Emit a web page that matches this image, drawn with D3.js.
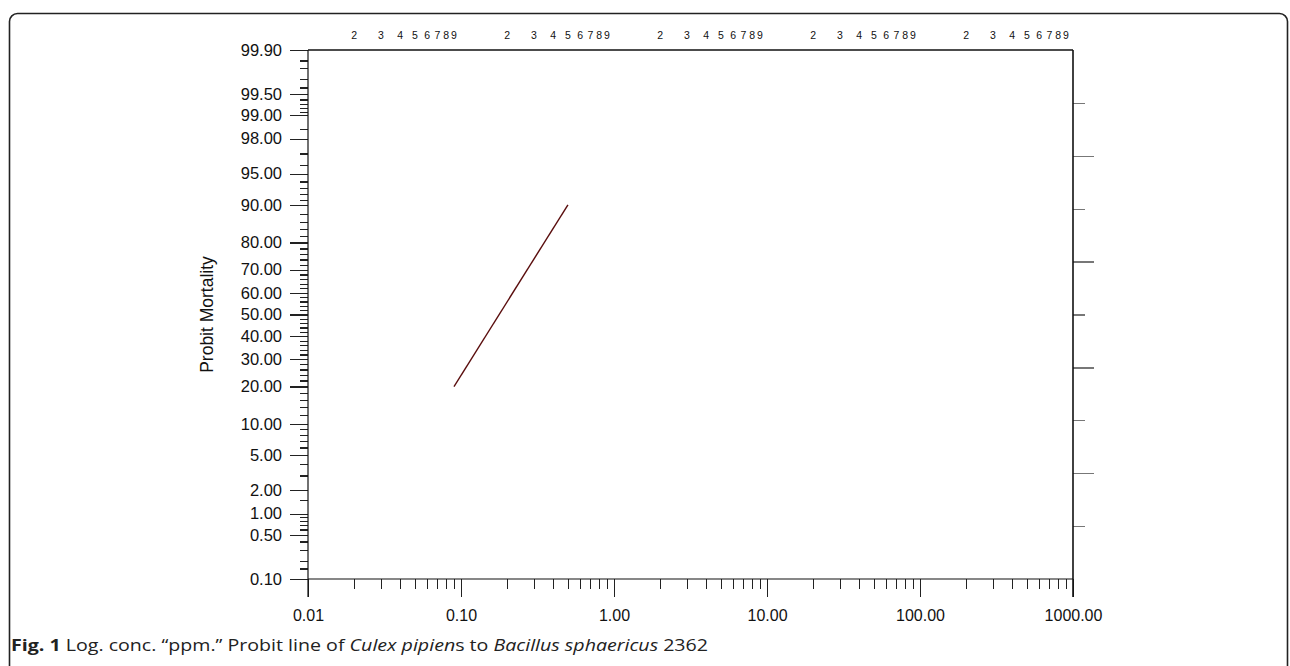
<!DOCTYPE html>
<html>
<head>
<meta charset="utf-8">
<script src="https://cdn.jsdelivr.net/npm/d3@7"></script>
<style>
  body { margin: 0; background: #fff; }
  svg { display: block; font-family: "Liberation Sans", Arial, Helvetica, sans-serif; }
  .tick line { shape-rendering: crispEdges; }
</style>
</head>
<body>
<svg id="chart" width="1290" height="666"></svg>
<script>
// probit line data
var conc = [0.09, 0.5];
var mortality = [20, 90];

// y tick labels (percent mortality)
var yMajor = [99.9, 99.5, 99, 98, 95, 90, 80, 70, 60, 50, 40, 30, 20, 10, 5, 2, 1, 0.5, 0.1];
var yMinor = [99.85, 99.8, 99.7, 99.6, 99.4, 99.3, 99.2, 99.1, 98.5, 97, 96, 94, 93, 92, 91,
  88, 86, 84, 82, 78, 76, 74, 72, 68, 66, 64, 62, 58, 56, 54, 52, 48, 46, 44, 42,
  38, 36, 34, 32, 28, 26, 24, 22, 18, 16, 14, 12, 9, 8, 7, 6, 4, 3, 1.5,
  0.9, 0.8, 0.7, 0.6, 0.4, 0.3, 0.2, 0.15];
// x tick labels (ppm)
var xMajor = [0.01, 0.1, 1, 10, 100, 1000];
var xMinorDigits = [2, 3, 4, 5, 6, 7, 8, 9];
// right hand scale ticks
var rightTicks = [1, 2, 3, 4, 5, 6, 7, 8, 9];

// inverse normal cdf (Acklam), used as the probit transform of the y axis
function probit(p) {
  var a = [-39.69683028665376, 220.9460984245205, -275.9285104469687, 138.3577518672690, -30.66479806614716, 2.506628277459239];
  var b = [-54.47609879822406, 161.5858368580409, -155.6989798598866, 66.80131188771972, -13.28068155288572];
  var c = [-0.007784894002430293, -0.3223964580411365, -2.400758277161838, -2.549732539343734, 4.374664141464968, 2.938163982698783];
  var d = [0.007784695709041462, 0.3224671290700398, 2.445134137142996, 3.754408661907416];
  var pl = 0.02425, q, r;
  if (p < pl) {
    q = Math.sqrt(-2 * Math.log(p));
    return (((((c[0]*q+c[1])*q+c[2])*q+c[3])*q+c[4])*q+c[5]) / ((((d[0]*q+d[1])*q+d[2])*q+d[3])*q+1);
  }
  if (p > 1 - pl) {
    q = Math.sqrt(-2 * Math.log(1 - p));
    return -(((((c[0]*q+c[1])*q+c[2])*q+c[3])*q+c[4])*q+c[5]) / ((((d[0]*q+d[1])*q+d[2])*q+d[3])*q+1);
  }
  q = p - 0.5;
  r = q * q;
  return (((((a[0]*r+a[1])*r+a[2])*r+a[3])*r+a[4])*r+a[5])*q / (((((b[0]*r+b[1])*r+b[2])*r+b[3])*r+b[4])*r+1);
}
function z(pct) { return probit(pct / 100); }

var plotLeft = 308, plotRight = 1073, plotTop = 50, plotBottom = 579;

var svg = d3.select("#chart");

// rounded frame round the figure
svg.append("rect")
  .attr("x", 9.5).attr("y", 13.5)
  .attr("width", 1278).attr("height", 720)
  .attr("rx", 8)
  .attr("fill", "none")
  .attr("stroke", "#222")
  .attr("stroke-width", 1.6);

var x = d3.scaleLog().domain([0.01, 1000]).range([plotLeft, plotRight]);
var yz = d3.scaleLinear().domain([z(0.1), z(99.9)]).range([plotBottom, plotTop]);
function y(pct) { return yz(z(pct)); }
var yr = d3.scaleLinear().domain([0, 10]).range([plotBottom, plotTop]);

// bottom axis: minor ticks
var xMinor = [];
for (var i = 0; i < xMajor.length - 1; i++) {
  for (var j = 0; j < xMinorDigits.length; j++) {
    xMinor.push(xMajor[i] * xMinorDigits[j]);
  }
}
svg.append("g")
  .attr("transform", "translate(0," + plotBottom + ")")
  .call(d3.axisBottom(x).tickValues(xMinor).tickSize(10).tickFormat(""))
  .call(function(g) { g.select(".domain").remove(); })
  .selectAll("line").attr("stroke", "#222").attr("stroke-width", 1.2);

// bottom axis: major ticks and labels
svg.append("g")
  .attr("transform", "translate(0," + plotBottom + ")")
  .call(d3.axisBottom(x).tickValues(xMajor).tickSize(18).tickPadding(13).tickFormat(d3.format(".2f")))
  .call(function(g) { g.select(".domain").remove(); })
  .call(function(g) {
    g.selectAll("line").attr("stroke", "#222").attr("stroke-width", 1.2);
    g.selectAll("text").attr("font-size", 16).attr("fill", "#111")
      .attr("font-family", "Liberation Sans, Arial, sans-serif");
  });

// top digits 2..9 for each decade
svg.append("g")
  .selectAll("text")
  .data(xMinor)
  .join("text")
  .attr("x", function(d) { return x(d); })
  .attr("y", 39)
  .attr("text-anchor", "middle")
  .attr("font-size", 10.5)
  .attr("fill", "#111")
  .text(function(d) { return Math.round(d / Math.pow(10, Math.floor(Math.log10(d) + 1e-9))); });

// left axis: minor ticks
svg.append("g")
  .attr("transform", "translate(" + plotLeft + ",0)")
  .call(d3.axisLeft(yz).tickValues(yMinor.map(z)).tickSize(8).tickFormat(""))
  .call(function(g) { g.select(".domain").remove(); })
  .selectAll("line").attr("stroke", "#222").attr("stroke-width", 1.2);

// left axis: labelled ticks
svg.append("g")
  .attr("transform", "translate(" + plotLeft + ",0)")
  .call(d3.axisLeft(yz).tickValues(yMajor.map(z)).tickSize(18).tickPadding(8)
    .tickFormat(function(v, i) { return yMajor[i].toFixed(2); }))
  .call(function(g) { g.select(".domain").remove(); })
  .call(function(g) {
    g.selectAll("line").attr("stroke", "#222").attr("stroke-width", 1.2);
    g.selectAll("text").attr("font-size", 16.5).attr("fill", "#111")
      .attr("font-family", "Liberation Sans, Arial, sans-serif");
  });

// right axis: plain scale ticks
svg.append("g")
  .attr("transform", "translate(" + plotRight + ",0)")
  .call(d3.axisRight(yr).tickValues(rightTicks).tickSize(0).tickFormat(""))
  .call(function(g) { g.select(".domain").remove(); })
  .selectAll(".tick line")
  .attr("x2", function(d) { return d % 2 === 0 ? 21 : 12; })
  .attr("stroke", "#777")
  .attr("stroke-width", 1.4);

// frame lines of the plot
svg.append("line")
  .attr("x1", plotLeft).attr("x2", plotRight).attr("y1", plotTop).attr("y2", plotTop)
  .attr("stroke", "#111").attr("stroke-width", 1.4);
svg.append("line")
  .attr("x1", plotLeft).attr("x2", plotRight).attr("y1", plotBottom).attr("y2", plotBottom)
  .attr("stroke", "#111").attr("stroke-width", 1.2);
svg.append("line")
  .attr("x1", plotLeft).attr("x2", plotLeft).attr("y1", plotTop).attr("y2", plotBottom + 18)
  .attr("stroke", "#111").attr("stroke-width", 1.2);
svg.append("line")
  .attr("x1", plotRight).attr("x2", plotRight).attr("y1", plotTop).attr("y2", plotBottom + 18)
  .attr("stroke", "#111").attr("stroke-width", 1.6);

// y axis title
svg.append("text")
  .attr("transform", "translate(213," + ((plotTop + plotBottom) / 2) + ") rotate(-90)")
  .attr("text-anchor", "middle")
  .attr("font-size", 17.5)
  .attr("fill", "#111")
  .text("Probit Mortality");

// probit line
var pts = conc.map(function(c, i) { return [c, mortality[i]]; });
svg.append("path")
  .datum(pts)
  .attr("fill", "none")
  .attr("stroke", "#5a0d0d")
  .attr("stroke-width", 1.4)
  .attr("d", d3.line().x(function(d) { return x(d[0]); }).y(function(d) { return y(d[1]); }));

// caption
var cap = svg.append("text")
  .attr("x", 11)
  .attr("y", 651)
  .attr("font-size", 16)
  .attr("fill", "#222")
  .attr("font-family", "Liberation Sans Narrow, Open Sans, sans-serif")
  .attr("textLength", 697)
  .attr("lengthAdjust", "spacingAndGlyphs");
cap.append("tspan").attr("font-weight", "bold").text("Fig. 1");
cap.append("tspan").text(" Log. conc. \u201cppm.\u201d Probit line of ");
cap.append("tspan").attr("font-style", "italic").text("Culex pipien");
cap.append("tspan").text("s to ");
cap.append("tspan").attr("font-style", "italic").text("Bacillus sphaericus");
cap.append("tspan").text(" 2362");
</script>
</body>
</html>
